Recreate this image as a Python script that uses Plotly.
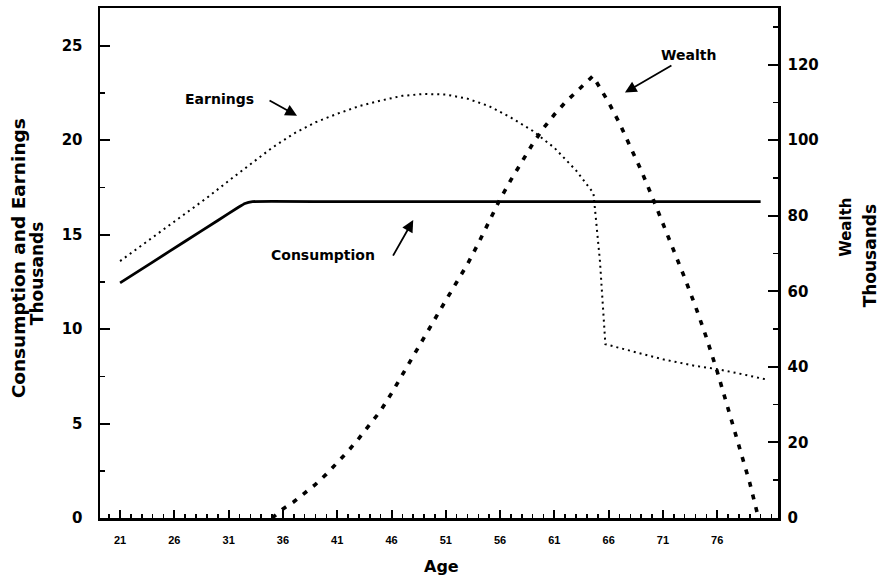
import plotly.graph_objects as go

# ---------------- data ----------------
cons_age = [21, 24, 27, 30, 31.9, 32.5, 33.2, 40, 50, 60, 70, 80]
consumption = [12.45, 13.55, 14.65, 15.75, 16.45, 16.65, 16.75, 16.75, 16.75, 16.75, 16.75, 16.75]

earn_age = [21, 23, 25, 27, 29, 31, 33, 35, 37, 39, 41, 43, 45, 47, 49, 51, 53, 55, 57, 59,
            61, 63, 64.6, 65.2, 65.7, 68, 71, 74, 76, 78, 80.4]
earnings = [13.6, 14.45, 15.25, 16.1, 16.95, 17.85, 18.75, 19.6, 20.35, 20.95, 21.4, 21.8,
            22.1, 22.35, 22.45, 22.42, 22.2, 21.8, 21.2, 20.5, 19.6, 18.4, 17.2, 13.6,
            9.2, 8.85, 8.4, 8.05, 7.88, 7.65, 7.35]

wealth_age = [35, 36, 37, 38, 39, 40, 41, 42, 43, 44, 45, 46, 47, 48, 49, 50, 51, 52, 53,
              54, 55, 56, 57, 58, 59, 60, 61, 62, 63, 64, 64.55, 65, 66, 67, 68, 69, 70, 71,
              72, 73, 74, 75, 76, 77, 78, 79, 79.8]
wealth = [0, 2.4, 4.3, 6.5, 8.9, 11.6, 14.5, 17.7, 21.1, 24.6, 28.4, 33.0, 38.0, 43.0, 48.0,
          53.0, 57.6, 62.4, 67.2, 72.7, 78.6, 84.4, 89.5, 94.3, 99.0, 103.2, 106.8, 110.0,
          112.9, 115.5, 117.0, 114.8, 110.0, 104.5, 98.5, 92.0, 85.1, 78.1, 71.0, 63.6, 56.0,
          47.8, 38.8, 29.0, 19.3, 9.3, 0]

age_ticks = [21, 26, 31, 36, 41, 46, 51, 56, 61, 66, 71, 76]
left_ticks = [0, 5, 10, 15, 20, 25]
right_ticks = [0, 20, 40, 60, 80, 100, 120]

x_range = [19.15, 81.6]
left_range = [0, 27]
right_range = [0, 135]

BOLD = "DejaVu Sans"

fig = go.Figure()
fig.add_trace(go.Scatter(x=earn_age, y=earnings, mode="lines", name="Earnings",
                         line=dict(color="black", width=2, dash="2px,4px")))
fig.add_trace(go.Scatter(x=cons_age, y=consumption, mode="lines", name="Consumption",
                         line=dict(color="black", width=2.8, shape="spline", smoothing=0.3)))
fig.add_trace(go.Scatter(x=wealth_age, y=wealth, mode="lines", name="Wealth", yaxis="y2",
                         line=dict(color="black", width=3.6, dash="5px,8px")))

fig.update_layout(
    width=885, height=577,
    margin=dict(l=100, r=107, t=5, b=59),
    paper_bgcolor="white", plot_bgcolor="white",
    showlegend=False,
    xaxis=dict(range=x_range, tickmode="array", tickvals=age_ticks,
               ticktext=[str(v) for v in age_ticks],
               ticks="inside", ticklen=8, tickwidth=2, tickcolor="black",
               minor=dict(tickmode="linear", tick0=21, dtick=1, ticks="inside", ticklen=4,
                          tickwidth=1.5, tickcolor="black"),
               showline=True, linecolor="black", linewidth=2.5, mirror=True,
               showgrid=False, zeroline=False, ticklabelstandoff=10,
               tickfont=dict(family="Liberation Sans", size=11, color="black", weight="bold")),
    yaxis=dict(range=left_range, tickmode="array", tickvals=left_ticks,
               ticks="inside", ticklen=10, tickwidth=2, tickcolor="black",
               minor=dict(tickmode="linear", tick0=0, dtick=2.5, ticks="inside", ticklen=5,
                          tickwidth=1.5, tickcolor="black"),
               showline=True, linecolor="black", linewidth=2.5,
               showgrid=False, zeroline=False, ticklabelstandoff=12,
               tickfont=dict(family=BOLD, size=15, color="black", weight="bold")),
    yaxis2=dict(range=right_range, overlaying="y", side="right", tickmode="array",
                tickvals=right_ticks, ticks="inside", ticklen=10, tickwidth=2, tickcolor="black",
                minor=dict(tickmode="linear", tick0=0, dtick=10, ticks="inside", ticklen=5,
                           tickwidth=1.5, tickcolor="black"),
                showline=True, linecolor="black", linewidth=2.5,
                showgrid=False, zeroline=False, ticklabelstandoff=4,
                tickfont=dict(family=BOLD, size=15, color="black", weight="bold")),
)

def txt(text, x, y, size, xref="paper", yref="paper", angle=0, weight="bold"):
    fig.add_annotation(text=text, x=x, y=y, xref=xref, yref=yref, showarrow=False,
                       textangle=angle, xanchor="center", yanchor="middle",
                       font=dict(family=BOLD, size=size, color="black", weight=weight))

def arrow(x, y, ax, ay, yref="y"):
    fig.add_annotation(text="", x=x, y=y, xref="x", yref=yref, ax=ax, ay=ay,
                       showarrow=True, arrowhead=2, arrowsize=1.3, arrowwidth=1.8,
                       arrowcolor="black")

# axis titles
txt("Consumption and Earnings", -0.121, 0.509, 18.5, angle=-90)
txt("Thousands", -0.093, 0.48, 17, angle=-90)
txt("Wealth", 1.1003, 0.569, 15, angle=-90)
txt("Thousands", 1.1357, 0.513, 17, angle=-90)
txt("Age", 0.503, -0.0955, 16)

# curve labels with arrows
txt("Earnings", 30.2, 22.17, 14, xref="x", yref="y")
arrow(37.3, 21.3, -29, -16)
txt("Consumption", 39.65, 13.95, 14, xref="x", yref="y")
arrow(48.0, 15.77, -21, 37)
txt("Wealth", 73.35, 122.6, 14, xref="x", yref="y2")
arrow(67.5, 112.6, 48, -28, yref="y2")

fig.write_html("out.html",
               config={"displayModeBar": False, "staticPlot": True},
               post_script="document.body.style.margin='0px';document.body.style.padding='0px';")
